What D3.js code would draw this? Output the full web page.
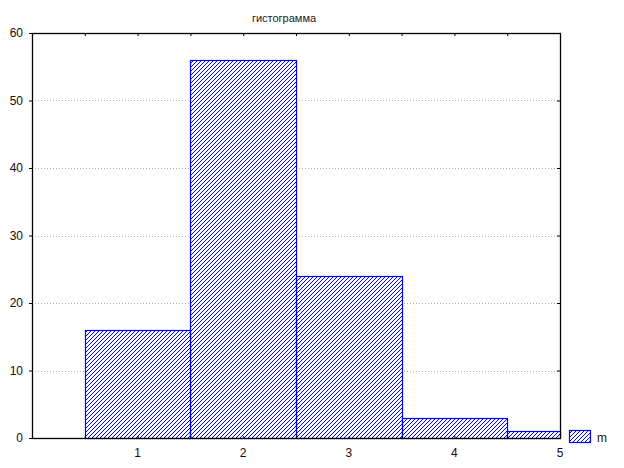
<!DOCTYPE html>
<html><head><meta charset="utf-8">
<script src="https://cdn.jsdelivr.net/npm/d3@7"></script>
<style>body{margin:0;background:#fff}svg{display:block}text{font-family:Arial,"Liberation Sans",sans-serif}</style>
</head><body><svg id="c" width="624" height="468"></svg>
<script>
const title = "гистограмма";
const binStarts = [0.5, 1.5, 2.5, 3.5, 4.5];
const binEnds = [1.5, 2.5, 3.5, 4.5, 5.5];
const counts = [16, 56, 24, 3, 1];
const xTicks = [1, 2, 3, 4, 5];
const yTicks = [0, 10, 20, 30, 40, 50, 60];
const seriesName = "m";

const svg = d3.select("#c");
const L = 32, R = 560, T = 33, B = 438;
const x = d3.scaleLinear().domain([0, 5]).range([L, R]);
const y = d3.scaleLinear().domain([0, 60]).range([B, T]);

const barX = i => Math.round(x(binStarts[i]));
const barW = i => Math.min(Math.round(x(binEnds[i])), R) - barX(i);
const barY = d => Math.round(y(d));
const barH = d => Math.round(y(0)) - barY(d);

const defs = svg.append("defs");
defs.append("clipPath").attr("id", "barsClip").selectAll("rect").data(counts).join("rect")
  .attr("x", (d, i) => barX(i)).attr("y", d => barY(d))
  .attr("width", (d, i) => barW(i)).attr("height", d => barH(d));
const legX = 569, legY = 430, legW = 22, legH = 13;
defs.append("clipPath").attr("id", "legClip").append("rect")
  .attr("x", legX).attr("y", legY).attr("width", legW).attr("height", legH);

function hatch(g, x0, x1, y0, y1) {
  const h = y1 - y0;
  const starts = d3.range(x0 - h - (x0 - h) % 4, x1 + 4, 4);
  g.selectAll("line").data(starts).join("line")
    .attr("x1", c => c).attr("y1", y1).attr("x2", c => c + h).attr("y2", y0)
    .attr("stroke", "#0000ff").attr("stroke-width", 1).attr("shape-rendering", "crispEdges");
}

// gridlines
svg.append("g").selectAll("line").data(yTicks.filter(d => d > 0 && d < 60)).join("line")
  .attr("x1", L).attr("x2", R).attr("y1", d => Math.round(y(d)) + 0.5).attr("y2", d => Math.round(y(d)) + 0.5)
  .attr("stroke", "#b0b0b0").attr("stroke-dasharray", "1,2");

// bars: white fill, hatch, blue outline
svg.append("g").selectAll("rect").data(counts).join("rect")
  .attr("x", (d, i) => barX(i)).attr("y", d => barY(d))
  .attr("width", (d, i) => barW(i)).attr("height", d => barH(d)).attr("fill", "#fff");
hatch(svg.append("g").attr("clip-path", "url(#barsClip)"), L, R, T, B);
svg.append("g").selectAll("rect").data(counts).join("rect")
  .attr("x", (d, i) => barX(i) + 0.5).attr("y", d => barY(d) + 0.5)
  .attr("width", (d, i) => barW(i)).attr("height", d => barH(d))
  .attr("fill", "none").attr("stroke", "#0000ff").attr("stroke-width", 1.2);

// axes
const fmt = d3.format("d");
const yAxisL = svg.append("g").attr("transform", `translate(${L},0)`)
  .call(d3.axisLeft(y).tickValues(yTicks).tickSize(3).tickPadding(6).tickFormat(fmt));
const yAxisR = svg.append("g").attr("transform", `translate(${R},0)`)
  .call(d3.axisLeft(y).tickValues(yTicks).tickSize(3).tickFormat(""));
const xAxisB = svg.append("g").attr("transform", `translate(0,${B})`)
  .call(d3.axisTop(x).tickValues(d3.range(0.5, 5, 0.5)).tickSize(2).tickFormat(""));
const xAxisT = svg.append("g").attr("transform", `translate(0,${T})`)
  .call(d3.axisBottom(x).tickValues(d3.range(0.5, 5, 0.5)).tickSize(3).tickFormat(""));
[yAxisL, yAxisR, xAxisB, xAxisT].forEach(g => {
  g.select(".domain").remove();
  g.selectAll("line").attr("stroke", "#000");
});
yAxisL.selectAll("text").attr("font-size", 12).attr("fill", "#1a0a0a");

// x labels
svg.append("g").selectAll("text").data(xTicks).join("text")
  .attr("x", d => x(d)).attr("y", 457).attr("text-anchor", "middle")
  .attr("font-size", 12).attr("fill", "#1a0a0a").text(d => d);

// frame
svg.append("rect").attr("x", L + 0.5).attr("y", T + 0.5).attr("width", R - L).attr("height", B - T)
  .attr("fill", "none").attr("stroke", "#000").attr("stroke-width", 1.3);

// title
svg.append("text").attr("x", 284).attr("y", 22).attr("text-anchor", "middle")
  .attr("font-size", 11).attr("fill", "#222").text(title);

// legend
hatch(svg.append("g").attr("clip-path", "url(#legClip)"), legX, legX + legW, legY, legY + legH);
svg.append("rect").attr("x", legX + 0.5).attr("y", legY + 0.5).attr("width", legW - 1).attr("height", legH - 1)
  .attr("fill", "none").attr("stroke", "#0000ff").attr("stroke-width", 1.2);
svg.append("text").attr("x", 597).attr("y", 442).attr("font-size", 12).attr("fill", "#2a0a0a").text(seriesName);
</script></body></html>
